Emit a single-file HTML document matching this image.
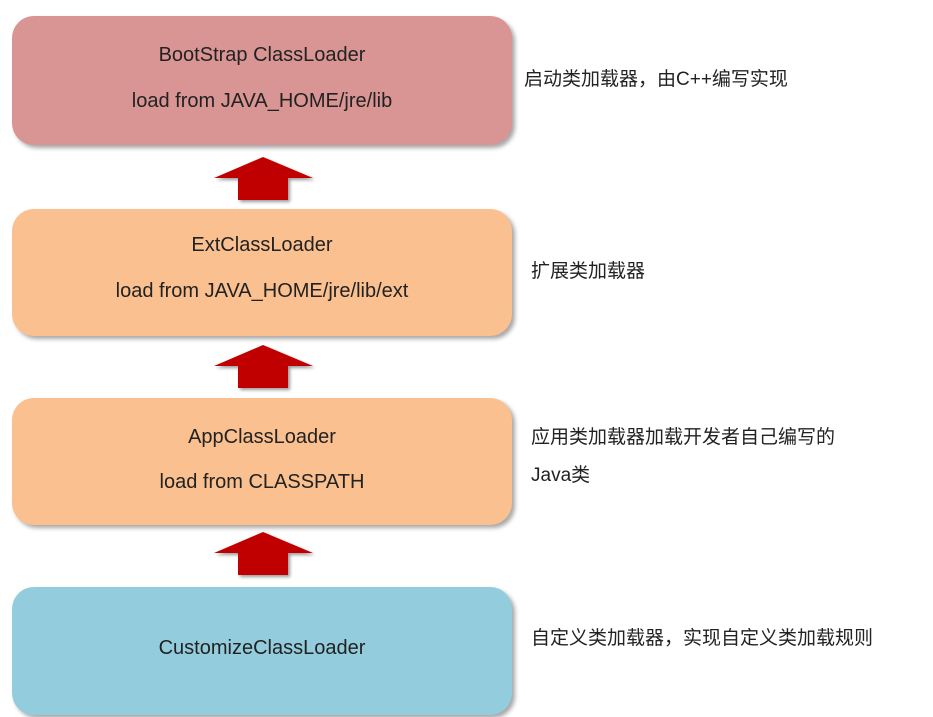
<!DOCTYPE html>
<html><head><meta charset="utf-8"><style>
body{margin:0;width:933px;height:717px;background:#fff;position:relative;overflow:hidden;font-family:"Liberation Sans","Noto Sans CJK SC",sans-serif;color:#222}
.b{position:absolute;left:12px;width:500px;border-radius:22px;box-shadow:3px 3px 4px rgba(0,0,0,.35);text-align:center;font-size:20px}
.b div{position:absolute;left:0;right:0}
.t{position:absolute;font-size:19px;color:#222}
svg{position:absolute;left:0;top:0}
</style></head><body>
<div class="b" style="top:16px;height:129px;background:#d99594"><div style="top:28px">BootStrap ClassLoader</div><div style="top:74px">load from JAVA_HOME/jre/lib</div></div>
<div class="b" style="top:209px;height:127px;background:#fac090"><div style="top:25px">ExtClassLoader</div><div style="top:71px">load from JAVA_HOME/jre/lib/ext</div></div>
<div class="b" style="top:398px;height:127px;background:#fac090"><div style="top:28px">AppClassLoader</div><div style="top:73px">load from CLASSPATH</div></div>
<div class="b" style="top:587px;height:128px;background:#93cddd"><div style="top:50px">CustomizeClassLoader</div></div>
<svg width="933" height="717">
<defs><filter id="s"><feDropShadow dx="2" dy="2" stdDeviation="1.5" flood-opacity="0.4"/></filter></defs>
<g fill="#c00000" filter="url(#s)">
<polygon points="263,157 313,178 288,178 288,200 238,200 238,178 214,178"/>
<polygon points="263,345 313,366 288,366 288,388 238,388 238,366 214,366"/>
<polygon points="263,532 313,553 288,553 288,575 238,575 238,553 214,553"/>
</g></svg>
<div class="t" style="left:524px;top:64px">启动类加载器，由C++编写实现</div>
<div class="t" style="left:531px;top:256px">扩展类加载器</div>
<div class="t" style="left:531px;top:422px">应用类加载器加载开发者自己编写的</div>
<div class="t" style="left:531px;top:460px">Java类</div>
<div class="t" style="left:531px;top:623px">自定义类加载器，实现自定义类加载规则</div>
</body></html>
